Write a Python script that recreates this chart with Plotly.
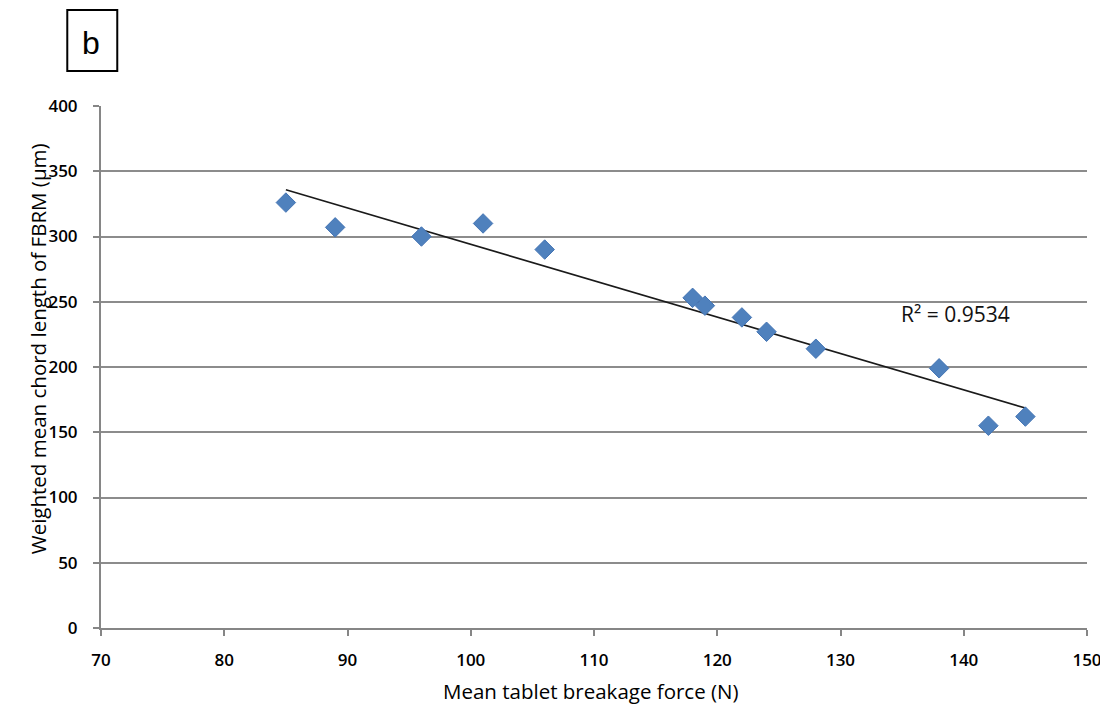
import numpy as np
import plotly.graph_objects as go

force = [85, 89, 96, 101, 106, 118, 119, 122, 124, 128, 138, 142, 145]
chord = [326, 307, 300, 310, 290, 253, 247, 238, 227, 214, 199, 155, 162]
r2_label = "R² = 0.9534"
x_ticks = [70, 80, 90, 100, 110, 120, 130, 140, 150]
y_ticks = [0, 50, 100, 150, 200, 250, 300, 350, 400]
x_title = "Mean tablet breakage force (N)"
y_title = "Weighted mean chord length of FBRM (μm)"

slope, intercept = np.polyfit(force, chord, 1)
tx = [min(force), max(force)]
ty = [slope * v + intercept for v in tx]

fig = go.Figure()
fig.add_trace(go.Scatter(x=tx, y=ty, mode="lines",
                         line=dict(color="#1a1a1a", width=1.6), showlegend=False))
fig.add_trace(go.Scatter(x=force, y=chord, mode="markers",
                         marker=dict(symbol="diamond", size=15, color="#4f81bd",
                                     line=dict(color="#4575b4", width=1)),
                         showlegend=False))

fig.add_annotation(x=139.3, y=240.6, text=r2_label, showarrow=False,
                   font=dict(family="Open Sans", size=21, color="#111"))

# axis titles
fig.add_annotation(xref="paper", yref="paper", x=0.497, y=-0.1207, text=x_title,
                   showarrow=False, xanchor="center", yanchor="middle",
                   font=dict(family="Open Sans", size=20.5, color="black"))
fig.add_annotation(xref="paper", yref="paper", x=-0.0636, y=0.5345, text=y_title,
                   showarrow=False, xanchor="center", yanchor="middle", textangle=-90,
                   font=dict(family="Open Sans", size=20.5, color="black"))

# panel label
fig.add_shape(type="rect", xref="paper", yref="paper",
              x0=-0.0342, x1=0.0165, y0=1.067, y1=1.184,
              line=dict(color="black", width=2))
fig.add_annotation(xref="paper", yref="paper", x=-0.0103, y=1.1207, text="b",
                   showarrow=False, xanchor="center", yanchor="middle",
                   font=dict(family="Liberation Sans", size=32, color="black"))

tickfont = dict(family="Open Sans", size=17, color="black", weight=600)

fig.update_layout(
    width=1092, height=699,
    margin=dict(l=93, r=13, t=98, b=79),
    plot_bgcolor="white", paper_bgcolor="white",
    xaxis=dict(range=[70, 150], tickvals=x_ticks, showgrid=False, zeroline=False,
               showline=True, linecolor="#868686", linewidth=2, automargin=False,
               ticks="outside", ticklen=6, tickcolor="#868686", tickwidth=2,
               ticklabelstandoff=10, tickfont=tickfont, ticklabeloverflow="allow"),
    yaxis=dict(range=[0, 400], tickvals=y_ticks, showgrid=True, gridcolor="#8c8c8c",
               gridwidth=1.5, zeroline=False, automargin=False,
               showline=True, linecolor="#868686", linewidth=2,
               ticks="outside", ticklen=6, tickcolor="#868686", tickwidth=2,
               ticklabelstandoff=12, tickfont=tickfont),
)
fig.write_html("out.html")
